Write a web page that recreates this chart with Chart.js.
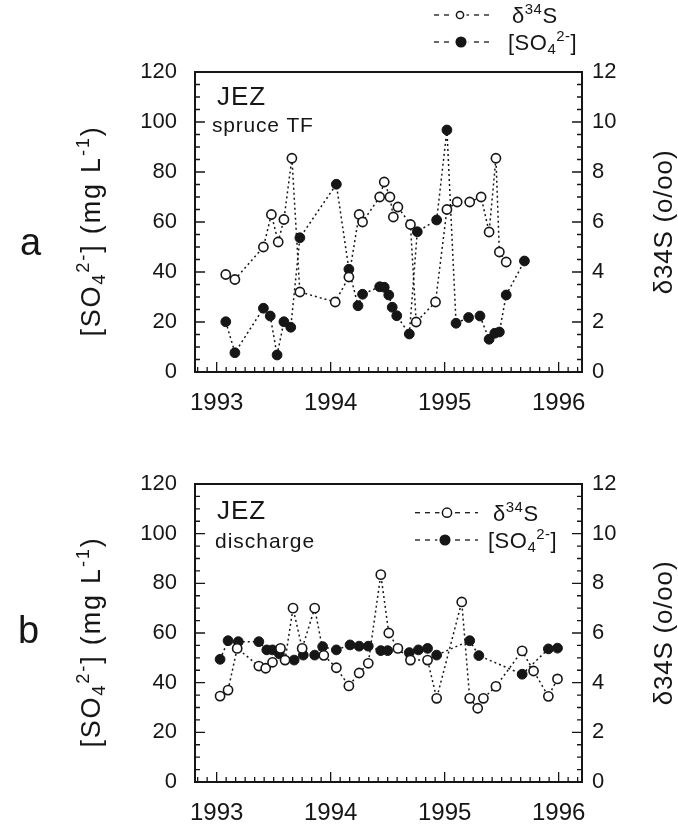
<!DOCTYPE html>
<html>
<head>
<meta charset="utf-8">
<script src="https://cdn.jsdelivr.net/npm/chart.js@4.4.0/dist/chart.umd.min.js"></script>
<style>
  body { margin: 0; background: #fff; }
  #wrap { position: relative; width: 678px; height: 827px; background: #fff; }
  canvas { position: absolute; left: 0; }
</style>
</head>
<body>
<div id="wrap">
  <canvas id="chartA" width="678" height="440" style="top:0"></canvas>
  <canvas id="chartB" width="678" height="387" style="top:440px"></canvas>
</div>
<script>
// JEZ sulfate / delta34S time series (two panels)

const yearTicks = [1993, 1994, 1995, 1996];
const sulfTicks = [0, 20, 40, 60, 80, 100, 120];
const deltaTicks = [0, 2, 4, 6, 8, 10, 12];

// panel a: spruce throughfall
const tfDeltaX = [1993.08, 1993.16, 1993.41, 1993.48, 1993.54, 1993.59, 1993.66, 1993.73, 1994.04, 1994.16,
                  1994.25, 1994.28, 1994.43, 1994.47, 1994.52, 1994.55, 1994.59, 1994.70, 1994.75, 1994.92,
                  1995.02, 1995.11, 1995.22, 1995.32, 1995.39, 1995.45, 1995.48, 1995.54];
const tfDeltaY = [3.9, 3.7, 5.0, 6.3, 5.2, 6.1, 8.55, 3.2, 2.8, 3.8,
                  6.3, 6.0, 7.0, 7.6, 7.0, 6.2, 6.6, 5.9, 2.0, 2.8,
                  6.5, 6.8, 6.8, 7.0, 5.6, 8.55, 4.8, 4.4];
const tfSulfX = [1993.08, 1993.16, 1993.41, 1993.47, 1993.53, 1993.59, 1993.65, 1993.73, 1994.05, 1994.16,
                 1994.24, 1994.28, 1994.43, 1994.47, 1994.51, 1994.54, 1994.58, 1994.69, 1994.76, 1994.93,
                 1995.02, 1995.10, 1995.21, 1995.31, 1995.39, 1995.44, 1995.48, 1995.54, 1995.70];
const tfSulfY = [20.1, 7.7, 25.5, 22.4, 6.8, 20.1, 17.9, 53.7, 75.1, 41.1,
                 26.5, 31.1, 34.1, 33.9, 30.8, 25.9, 22.5, 15.2, 56.1, 60.8,
                 96.8, 19.5, 21.8, 22.4, 13.1, 15.5, 16.0, 30.8, 44.4];

// panel b: discharge
const dcDeltaX = [1993.03, 1993.10, 1993.18, 1993.37, 1993.43, 1993.49, 1993.56, 1993.60, 1993.67, 1993.75,
                  1993.86, 1993.94, 1994.05, 1994.16, 1994.25, 1994.33, 1994.44, 1994.51, 1994.59, 1994.70,
                  1994.85, 1994.93, 1995.15, 1995.22, 1995.29, 1995.34, 1995.45, 1995.68, 1995.78, 1995.91,
                  1995.99];
const dcDeltaY = [3.46, 3.70, 5.38, 4.67, 4.58, 4.82, 5.38, 4.91, 7.00, 5.38,
                  7.00, 5.10, 4.60, 3.87, 4.39, 4.78, 8.35, 6.00, 5.38, 4.91,
                  4.91, 3.37, 7.25, 3.37, 2.97, 3.37, 3.85, 5.28, 4.47, 3.45,
                  4.15];
const dcSulfX = [1993.03, 1993.10, 1993.19, 1993.37, 1993.44, 1993.49, 1993.55, 1993.68, 1993.76, 1993.86,
                 1993.93, 1994.05, 1994.17, 1994.25, 1994.33, 1994.44, 1994.50, 1994.69, 1994.77, 1994.85,
                 1994.93, 1995.22, 1995.30, 1995.68, 1995.91, 1995.99];
const dcSulfY = [49.4, 56.9, 56.5, 56.5, 53.2, 53.2, 51.6, 49.1, 51.1, 51.1,
                 54.5, 53.2, 55.2, 54.7, 54.7, 52.9, 52.9, 52.1, 53.2, 53.8,
                 51.1, 56.9, 50.9, 43.4, 53.6, 53.9];

const FONT = '"Liberation Sans", Arial, Helvetica, sans-serif';
const INK = '#161616';

const sulfLabel = [['[SO', 'n'], ['4', 'sub'], ['2-', 'sup'], ['] (mg L', 'n'], ['-1', 'sup'], [')', 'n']];
const sulfLegend = [['[SO', 'n'], ['4', 'sub'], ['2-', 'sup'], [']', 'n']];
const deltaLegend = [['δ', 'n'], ['34', 'sup'], ['S', 'n']];

function zip(xs, ys) {
    return xs.map((x, i) => ({ x: x, y: ys[i] }));
}

function partSize(p, size) {
    return p[1] === 'n' ? size : size * 0.68;
}

function richWidth(ctx, parts, size, ls) {
    let w = 0;
    ctx.letterSpacing = '0px';
    parts.forEach(p => {
        ctx.font = partSize(p, size) + 'px ' + FONT;
        w += ctx.measureText(p[0]).width + ls * p[0].length;
    });
    return w;
}

function drawRich(ctx, parts, x, y, size, ls, align) {
    let cx = align === 'center' ? x - richWidth(ctx, parts, size, ls) / 2 : x;
    parts.forEach(p => {
        const s = partSize(p, size);
        const dy = p[1] === 'sup' ? -size * 0.4 : (p[1] === 'sub' ? size * 0.2 : 0);
        ctx.font = s + 'px ' + FONT;
        ctx.letterSpacing = '0px';
        const w = ctx.measureText(p[0]).width + ls * p[0].length;
        ctx.letterSpacing = ls + 'px';
        ctx.fillText(p[0], cx, y + dy);
        cx += w;
    });
    ctx.letterSpacing = '0px';
}

function legendRow(ctx, y, x0, x1, cx, r, filled, parts, tx) {
    ctx.save();
    ctx.strokeStyle = INK;
    ctx.lineWidth = 1.3;
    ctx.setLineDash([5, 5]);
    ctx.beginPath();
    ctx.moveTo(x0, y);
    ctx.lineTo(x1, y);
    ctx.stroke();
    ctx.setLineDash([]);
    ctx.beginPath();
    ctx.arc(cx, y, r + 3, 0, Math.PI * 2);
    ctx.fillStyle = '#fff';
    ctx.fill();
    ctx.beginPath();
    ctx.arc(cx, y, r, 0, Math.PI * 2);
    ctx.fillStyle = filled ? INK : '#fff';
    ctx.fill();
    ctx.lineWidth = 1.5;
    ctx.stroke();
    ctx.fillStyle = INK;
    ctx.textBaseline = 'alphabetic';
    drawRich(ctx, parts, tx, y + 8, 22, 0.5, 'left');
    ctx.restore();
}

// frame box + inward tick marks
const framePlugin = {
    id: 'frame',
    beforeDatasetsDraw(chart) {
        const { ctx, chartArea: a, scales } = chart;
        ctx.save();
        ctx.strokeStyle = INK;
        ctx.lineWidth = 1.3;
        ctx.beginPath();
        for (let yr = 1992; yr <= 1996; yr++) {
            for (let m = 0; m < 12; m++) {
                const v = yr + m / 12;
                if (v <= scales.x.min || v >= scales.x.max) continue;
                const px = scales.x.getPixelForValue(v);
                ctx.moveTo(px, a.bottom);
                ctx.lineTo(px, a.bottom - (m === 0 ? 10 : 5));
            }
        }
        for (let v = 5; v < 120; v += 5) {
            const py = scales.yL.getPixelForValue(v);
            ctx.moveTo(a.left, py);
            ctx.lineTo(a.left + (v % 20 === 0 ? 10 : 5), py);
        }
        for (let v = 0.5; v < 12; v += 0.5) {
            const py = scales.yR.getPixelForValue(v);
            ctx.moveTo(a.right, py);
            ctx.lineTo(a.right - (v % 2 === 0 ? 10 : 5), py);
        }
        ctx.stroke();
        ctx.lineWidth = 2;
        ctx.strokeRect(a.left, a.top, a.right - a.left, a.bottom - a.top);
        ctx.restore();
    }
};

function makePanel(id, cfg) {
    const textPlugin = {
        id: 'texts',
        afterDraw(chart) {
            const ctx = chart.ctx;
            ctx.save();
            ctx.fillStyle = INK;
            ctx.textBaseline = 'alphabetic';
            ctx.textAlign = 'left';

            // panel letter
            ctx.font = '38px ' + FONT;
            ctx.fillText(cfg.letter, cfg.letterX, cfg.letterY);

            // site + sample type
            ctx.font = '26px ' + FONT;
            ctx.letterSpacing = '1px';
            ctx.fillText('JEZ', 217, cfg.jezY);
            ctx.font = cfg.subSize + 'px ' + FONT;
            ctx.letterSpacing = cfg.subLs + 'px';
            ctx.fillText(cfg.sub, cfg.subX, cfg.subY);
            ctx.letterSpacing = '0px';

            // left axis title
            ctx.save();
            ctx.translate(100, cfg.titleY);
            ctx.rotate(-Math.PI / 2);
            drawRich(ctx, sulfLabel, 0, 0, 27, 1.8, 'center');
            ctx.restore();

            // right axis title
            ctx.save();
            ctx.translate(672, cfg.rTitleY);
            ctx.rotate(-Math.PI / 2);
            drawRich(ctx, [['δ34S (o/oo)', 'n']], 0, 0, 26, 0.8, 'center');
            ctx.restore();

            // legend
            const L = cfg.legend;
            legendRow(ctx, L.y1, L.x0, L.x1, L.c1, L.r1, false, deltaLegend, L.t1);
            legendRow(ctx, L.y2, L.x0, L.x1, L.c2, 4.8, true, sulfLegend, L.t2);
            ctx.restore();
        }
    };

    return new Chart(document.getElementById(id), {
        type: 'scatter',
        data: {
            datasets: [{
                label: 'δ34S',
                data: zip(cfg.dX, cfg.dY),
                yAxisID: 'yR',
                showLine: true,
                borderColor: INK,
                borderWidth: 1.5,
                borderDash: [2, 3],
                pointRadius: 4.6,
                pointBackgroundColor: '#fff',
                pointBorderColor: INK,
                pointBorderWidth: 1.6
            }, {
                label: 'SO4',
                data: zip(cfg.sX, cfg.sY),
                yAxisID: 'yL',
                showLine: true,
                borderColor: INK,
                borderWidth: 1.5,
                borderDash: [2, 3],
                pointRadius: 4.9,
                pointBackgroundColor: INK,
                pointBorderColor: INK,
                pointBorderWidth: 1
            }]
        },
        options: {
            responsive: false,
            animation: false,
            events: [],
            devicePixelRatio: 1,
            layout: { padding: { top: cfg.top, left: 0, right: 0, bottom: 0 } },
            plugins: { legend: { display: false }, tooltip: { enabled: false } },
            scales: {
                x: {
                    type: 'linear',
                    min: 1992.81,
                    max: 1996.205,
                    afterBuildTicks: s => { s.ticks = yearTicks.map(v => ({ value: v })); },
                    afterFit: s => { s.height = cfg.xH; },
                    grid: { display: false, drawTicks: false },
                    border: { display: false },
                    ticks: {
                        autoSkip: false, maxRotation: 0, padding: 17, color: INK,
                        font: { family: FONT, size: 24 },
                        callback: v => String(v)
                    }
                },
                yL: {
                    type: 'linear',
                    position: 'left',
                    min: 0,
                    max: 120,
                    afterBuildTicks: s => { s.ticks = sulfTicks.map(v => ({ value: v })); },
                    afterFit: s => { s.width = 195; },
                    grid: { display: false, drawTicks: false },
                    border: { display: false },
                    ticks: {
                        autoSkip: false, padding: 18, color: INK,
                        font: { family: FONT, size: 22 },
                        callback: v => String(v)
                    }
                },
                yR: {
                    type: 'linear',
                    position: 'right',
                    min: 0,
                    max: 12,
                    afterBuildTicks: s => { s.ticks = deltaTicks.map(v => ({ value: v })); },
                    afterFit: s => { s.width = 96; },
                    grid: { display: false, drawTicks: false },
                    border: { display: false },
                    ticks: {
                        autoSkip: false, padding: 10, color: INK,
                        font: { family: FONT, size: 22 },
                        callback: v => String(v)
                    }
                }
            }
        },
        plugins: [framePlugin, textPlugin]
    });
}

makePanel('chartA', {
    dX: tfDeltaX, dY: tfDeltaY, sX: tfSulfX, sY: tfSulfY,
    top: 72, xH: 68,
    letter: 'a', letterX: 20, letterY: 255,
    jezY: 105, sub: 'spruce TF', subX: 212, subY: 132, subSize: 21, subLs: 0.8,
    titleY: 231, rTitleY: 222,
    legend: { y1: 15, y2: 42, x0: 434, x1: 490, c1: 460, c2: 461, r1: 3.6, t1: 512, t2: 508 }
});

makePanel('chartB', {
    dX: dcDeltaX, dY: dcDeltaY, sX: dcSulfX, sY: dcSulfY,
    top: 44, xH: 45,
    letter: 'b', letterX: 18, letterY: 203,
    jezY: 79, sub: 'discharge', subX: 215, subY: 108, subSize: 21, subLs: 1,
    titleY: 202, rTitleY: 193,
    legend: { y1: 72.7, y2: 100, x0: 415, x1: 478, c1: 447, c2: 445, r1: 4.6, t1: 493, t2: 488 }
});
</script>
</body>
</html>
